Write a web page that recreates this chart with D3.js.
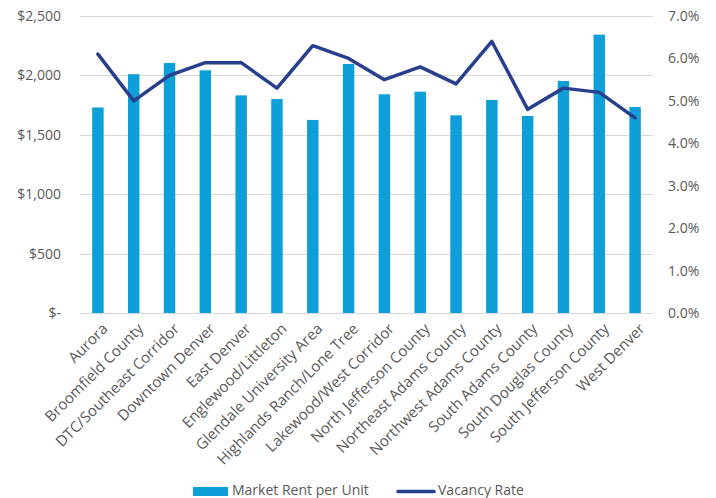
<!DOCTYPE html>
<html>
<head>
<meta charset="utf-8">
<script src="https://cdn.jsdelivr.net/npm/d3@7/dist/d3.min.js"></script>
<style>
  html, body { margin: 0; padding: 0; background: #fff; }
  svg { display: block; }
  text { font-family: "Open Sans", "Liberation Sans", sans-serif; fill: #595959; }
</style>
</head>
<body>
<svg id="chart" width="716" height="498"></svg>
<script>
// Submarkets along the x axis
const categories = [
  "Aurora", "Broomfield County", "DTC/Southeast Corridor", "Downtown Denver",
  "East Denver", "Englewood/Littleton", "Glendale University Area",
  "Highlands Ranch/Lone Tree", "Lakewood/West Corridor", "North Jefferson County",
  "Northeast Adams County", "Northwest Adams County", "South Adams County",
  "South Douglas County", "South Jefferson County", "West Denver"
];
// Market rent per unit, dollars (left axis)
const marketRent = [1730, 2010, 2105, 2043, 1832, 1801, 1625, 2096,
                    1841, 1863, 1664, 1793, 1658, 1953, 2343, 1734];
// Vacancy rate, percent (right axis)
const vacancyRate = [6.1, 5.0, 5.6, 5.9, 5.9, 5.3, 6.3, 6.0,
                     5.5, 5.8, 5.4, 6.4, 4.8, 5.3, 5.2, 4.6];
const rentTicks = [0, 500, 1000, 1500, 2000, 2500];
const rateTicks = [0, 1, 2, 3, 4, 5, 6, 7];
const seriesNames = ["Market Rent per Unit", "Vacancy Rate"];

const barColor = "#0E9FD9";
const lineColor = "#283F8D";
const gridColor = "#D9D9D9";

const svg = d3.select("#chart");
const plotLeft = 80, plotRight = 653, plotTop = 16, plotBottom = 313;

const x = d3.scaleBand().domain(categories).range([plotLeft, plotRight]).paddingInner(0.68).paddingOuter(0.34);
const yRent = d3.scaleLinear().domain([0, 2500]).range([plotBottom, plotTop]);
const yRate = d3.scaleLinear().domain([0, 7]).range([plotBottom, plotTop]);

// Horizontal gridlines
svg.append("g")
  .selectAll("line")
  .data(rentTicks)
  .join("line")
  .attr("x1", plotLeft).attr("x2", plotRight)
  .attr("y1", d => Math.round(yRent(d)) + 0.5)
  .attr("y2", d => Math.round(yRent(d)) + 0.5)
  .attr("stroke", gridColor).attr("stroke-width", 1);

// Left axis (dollars)
const fmtRent = d => d === 0 ? "$-" : "$" + d3.format(",")(d);
const leftAxis = svg.append("g")
  .attr("transform", `translate(${plotLeft},0)`)
  .call(d3.axisLeft(yRent).tickValues(rentTicks).tickFormat(fmtRent).tickSize(0).tickPadding(19));
leftAxis.select(".domain").remove();
leftAxis.selectAll("text").style("font-size", "14px").attr("fill", "#595959");

// Right axis (percent)
const rightAxis = svg.append("g")
  .attr("transform", `translate(${plotRight},0)`)
  .call(d3.axisRight(yRate).tickValues(rateTicks).tickFormat(d => d3.format(".1f")(d) + "%").tickSize(0).tickPadding(15));
rightAxis.select(".domain").remove();
rightAxis.selectAll("text").style("font-size", "14px").attr("fill", "#595959");

// Bars
svg.append("g")
  .selectAll("rect")
  .data(categories)
  .join("rect")
  .attr("x", d => x(d))
  .attr("width", x.bandwidth())
  .attr("y", (d, i) => yRent(marketRent[i]))
  .attr("height", (d, i) => yRent(0) - yRent(marketRent[i]))
  .attr("fill", barColor);

// Vacancy line
const line = d3.line()
  .x((d, i) => x(categories[i]) + x.bandwidth() / 2)
  .y(d => yRate(d));
svg.append("path")
  .datum(vacancyRate)
  .attr("d", line)
  .attr("fill", "none")
  .attr("stroke", lineColor)
  .attr("stroke-width", 3.5)
  .attr("stroke-linejoin", "round")
  .attr("stroke-linecap", "round");

// Category labels, rotated
svg.append("g")
  .selectAll("text")
  .data(categories)
  .join("text")
  .attr("transform", d => `translate(${x(d) + x.bandwidth() / 2 + 7},${plotBottom + 13}) rotate(-45)`)
  .attr("text-anchor", "end")
  .attr("dy", "0.35em")
  .style("font-size", "15px")
  .text(d => d);

// Legend
const legend = svg.append("g");
legend.append("rect")
  .attr("x", 193).attr("y", 487).attr("width", 35).attr("height", 9)
  .attr("fill", barColor);
legend.append("text")
  .attr("x", 232).attr("y", 494.5)
  .style("font-size", "14px")
  .text(seriesNames[0]);
legend.append("line")
  .attr("x1", 398).attr("x2", 434).attr("y1", 491.5).attr("y2", 491.5)
  .attr("stroke", lineColor).attr("stroke-width", 3.5).attr("stroke-linecap", "round");
legend.append("text")
  .attr("x", 438).attr("y", 494.5)
  .style("font-size", "14px")
  .text(seriesNames[1]);
</script>
</body>
</html>
